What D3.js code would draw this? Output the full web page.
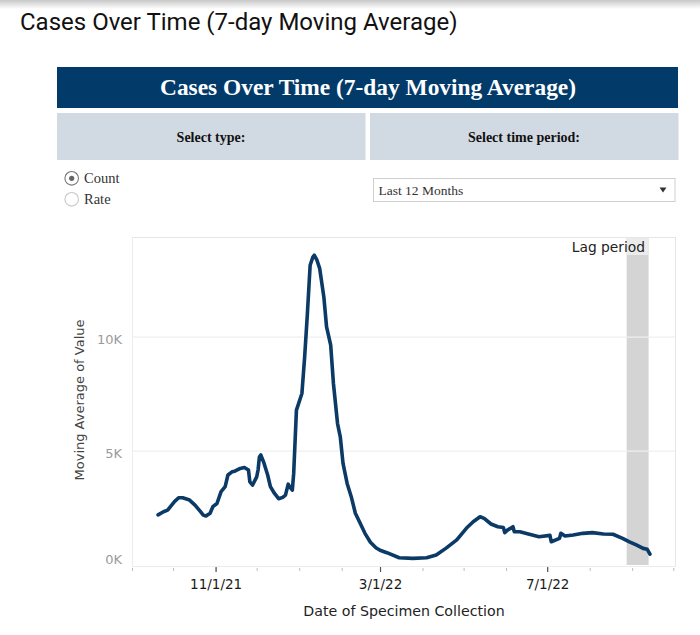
<!DOCTYPE html>
<html>
<head>
<meta charset="utf-8">
<script src="https://cdn.jsdelivr.net/npm/d3@7/dist/d3.min.js"></script>
<style>
  html, body { margin: 0; padding: 0; background: #fff; }
  svg { display: block; }
</style>
</head>
<body>
<svg id="chart" width="700" height="635"></svg>
<script>
// ---- Data ----
const dates = [
  "2021-09-20","2021-09-24","2021-09-27","2021-10-02","2021-10-05","2021-10-08","2021-10-13","2021-10-17",
  "2021-10-21","2021-10-23","2021-10-25","2021-10-28","2021-10-30","2021-11-02","2021-11-05","2021-11-08",
  "2021-11-10","2021-11-13","2021-11-15","2021-11-19","2021-11-22","2021-11-25","2021-11-26","2021-11-28",
  "2021-12-01","2021-12-02","2021-12-03","2021-12-04","2021-12-06","2021-12-09","2021-12-11","2021-12-14",
  "2021-12-17","2021-12-20","2021-12-22","2021-12-24","2021-12-25","2021-12-27","2021-12-28","2021-12-30",
  "2022-01-03","2022-01-05","2022-01-07","2022-01-09","2022-01-11","2022-01-12","2022-01-14","2022-01-16",
  "2022-01-19","2022-01-21","2022-01-24","2022-01-26","2022-01-29","2022-01-31","2022-02-02","2022-02-05",
  "2022-02-08","2022-02-11","2022-02-14","2022-02-18","2022-02-22","2022-02-26","2022-03-01","2022-03-06",
  "2022-03-15","2022-03-25","2022-04-04","2022-04-11","2022-04-18","2022-04-26","2022-05-03","2022-05-08",
  "2022-05-13","2022-05-16","2022-05-21","2022-05-26","2022-05-30","2022-05-31","2022-06-02","2022-06-06",
  "2022-06-07","2022-06-11","2022-06-18","2022-06-25","2022-07-03","2022-07-04","2022-07-10","2022-07-11",
  "2022-07-14","2022-07-20","2022-07-27","2022-08-03","2022-08-11","2022-08-18","2022-08-25","2022-08-30",
  "2022-09-04","2022-09-09","2022-09-12","2022-09-14"
];
const values = [
  2200,2340,2410,2780,2950,2950,2850,2630,
  2340,2190,2150,2270,2560,2700,3220,3440,
  3950,4090,4120,4240,4280,4170,3650,3510,
  3870,4170,4750,4830,4530,3950,3440,3140,
  2910,2970,3070,3550,3440,3290,4020,6800,
  7530,9140,11040,13160,13520,13600,13380,13010,
  11770,10450,9650,7970,6210,5630,4460,3580,
  3000,2270,1900,1390,1000,760,650,540,
  320,290,320,440,730,1100,1610,1900,
  2120,2050,1800,1680,1650,1420,1530,1680,
  1460,1460,1350,1240,1300,1020,1170,1390,
  1270,1320,1390,1420,1360,1350,1170,1020,
  880,730,690,480
];
const yTicks = [0, 5000, 10000];
const yTickLabels = ["0K", "5K", "10K"];
const xTickDates = ["2021-11-01", "2022-03-01", "2022-07-01"];
const xTickLabels = ["11/1/21", "3/1/22", "7/1/22"];
const lagPeriod = ["2022-08-28", "2022-09-13"];
const xDomain = ["2021-09-01", "2022-10-03"];
const yDomain = [0, 14400];

const pageTitle = "Cases Over Time (7-day Moving Average)";
const headerTitle = "Cases Over Time (7-day Moving Average)";
const typeLabel = "Select type:";
const periodLabel = "Select time period:";
const typeOptions = ["Count", "Rate"];
const periodValue = "Last 12 Months";
const yTitle = "Moving Average of Value";
const xTitle = "Date of Specimen Collection";
const lagLabel = "Lag period";

// ---- Drawing ----
const parse = d3.timeParse("%Y-%m-%d");
const data = dates.map((d, i) => ({ date: parse(d), value: values[i] }));
const svg = d3.select("#chart");

const NAVY = "#023a6a";
const BOX = "#d1d9e3";
const SERIF = "'Liberation Serif', 'Times New Roman', serif";
const SANS = "'DejaVu Sans', sans-serif";

// top shadow
const defs = svg.append("defs");
const grad = defs.append("linearGradient").attr("id", "shadow").attr("x1", 0).attr("y1", 0).attr("x2", 0).attr("y2", 1);
grad.append("stop").attr("offset", "0%").attr("stop-color", "#c8c8c8");
grad.append("stop").attr("offset", "100%").attr("stop-color", "#ffffff");
svg.append("rect").attr("x", 0).attr("y", 0).attr("width", 700).attr("height", 9).attr("fill", "url(#shadow)");

// page title
svg.append("text").attr("x", 20).attr("y", 30)
  .attr("font-family", "Roboto, sans-serif").attr("font-size", 24).attr("fill", "#111")
  .text(pageTitle);

// header bar
svg.append("rect").attr("x", 57).attr("y", 67).attr("width", 621).attr("height", 41).attr("fill", NAVY);
svg.append("text").attr("x", 368).attr("y", 95)
  .attr("text-anchor", "middle").attr("font-family", SERIF).attr("font-weight", "bold")
  .attr("font-size", 23.4).attr("fill", "#fff").text(headerTitle);

// selector boxes
svg.append("rect").attr("x", 57).attr("y", 113).attr("width", 308.5).attr("height", 47).attr("fill", BOX);
svg.append("rect").attr("x", 370).attr("y", 113).attr("width", 308.5).attr("height", 47).attr("fill", BOX);
svg.append("text").attr("x", 211).attr("y", 141.5).attr("text-anchor", "middle")
  .attr("font-family", SERIF).attr("font-weight", "bold").attr("font-size", 14).attr("fill", "#111").text(typeLabel);
svg.append("text").attr("x", 524).attr("y", 141.5).attr("text-anchor", "middle")
  .attr("font-family", SERIF).attr("font-weight", "bold").attr("font-size", 14).attr("fill", "#111").text(periodLabel);

// radio buttons
typeOptions.forEach((opt, i) => {
  const cy = 178.3 + i * 21;
  svg.append("circle").attr("cx", 71.7).attr("cy", cy).attr("r", 6.8)
    .attr("fill", "#fff").attr("stroke", i === 0 ? "#777" : "#c8c8c8").attr("stroke-width", 1.1);
  if (i === 0) svg.append("circle").attr("cx", 71.7).attr("cy", cy).attr("r", 2.6).attr("fill", "#666");
  svg.append("text").attr("x", 84).attr("y", cy + 4.8)
    .attr("font-family", SERIF).attr("font-size", 14.5).attr("fill", "#333").text(opt);
});

// dropdown
svg.append("rect").attr("x", 373.5).attr("y", 178.5).attr("width", 301.5).attr("height", 23)
  .attr("fill", "#fff").attr("stroke", "#cfcfcf").attr("stroke-width", 1);
svg.append("text").attr("x", 378.5).attr("y", 194.5)
  .attr("font-family", SERIF).attr("font-size", 13.5).attr("fill", "#333").text(periodValue);
svg.append("path").attr("d", "M659.5,187.5 L666.5,187.5 L663,192.5 Z").attr("fill", "#333");

// ---- Plot ----
const plot = { left: 132, right: 676, top: 237, bottom: 565 };
const x = d3.scaleTime().domain(xDomain.map(parse)).range([plot.left, plot.right]);
const y = d3.scaleLinear().domain(yDomain).range([plot.bottom, plot.top]);

// lag period
const lagX0 = x(parse(lagPeriod[0])), lagX1 = x(parse(lagPeriod[1]));
svg.append("rect").attr("x", lagX0).attr("y", plot.top).attr("width", lagX1 - lagX0)
  .attr("height", plot.bottom - plot.top).attr("fill", "#d4d4d4");
svg.append("rect").attr("x", lagX0).attr("y", plot.top + 1).attr("width", lagX1 - lagX0)
  .attr("height", 17).attr("fill", "#ebebeb");

// gridlines
svg.append("g").selectAll("line").data(yTicks.filter(d => d > 0)).join("line")
  .attr("x1", plot.left).attr("x2", plot.right).attr("y1", d => y(d)).attr("y2", d => y(d))
  .attr("stroke", "#efefef").attr("stroke-width", 1.2);

// frame
svg.append("line").attr("x1", plot.left).attr("x2", plot.right).attr("y1", plot.top + 0.5).attr("y2", plot.top + 0.5)
  .attr("stroke", "#e6e6e6");
svg.append("line").attr("x1", plot.right - 0.5).attr("x2", plot.right - 0.5).attr("y1", plot.top).attr("y2", plot.bottom + 2)
  .attr("stroke", "#e6e6e6");
svg.append("line").attr("x1", plot.left + 0.5).attr("x2", plot.left + 0.5).attr("y1", plot.top).attr("y2", plot.bottom + 2)
  .attr("stroke", "#ececec");
svg.append("line").attr("x1", plot.left).attr("x2", plot.right).attr("y1", plot.bottom + 1.5).attr("y2", plot.bottom + 1.5)
  .attr("stroke", "#ececec");

// lag label
svg.append("text").attr("x", 645).attr("y", 251.5).attr("text-anchor", "end")
  .attr("font-family", SANS).attr("font-size", 13.8).attr("fill", "#222").text(lagLabel);

// y axis labels
const yAxis = d3.axisLeft(y).tickValues(yTicks).tickSize(0).tickPadding(10)
  .tickFormat((d, i) => yTickLabels[i]);
const gy = svg.append("g").attr("transform", `translate(${plot.left},0)`).call(yAxis);
gy.select(".domain").remove();
gy.selectAll("text").attr("font-family", SANS).attr("font-size", 13).attr("fill", "#9a9a9a")
  .attr("dy", (d) => d === 0 ? "-0.15em" : "0.5em");

// x axis minor ticks
const gxMinor = svg.append("g").attr("transform", `translate(0,${plot.bottom + 3})`)
  .call(d3.axisBottom(x).ticks(d3.timeMonth.every(1)).tickSize(3).tickFormat(""));
gxMinor.select(".domain").remove();
gxMinor.selectAll("line").attr("stroke", "#bdbdbd");

// x axis major ticks + labels
const gx = svg.append("g").attr("transform", `translate(0,${plot.bottom + 2})`)
  .call(d3.axisBottom(x).tickValues(xTickDates.map(parse)).tickSize(5).tickPadding(7)
    .tickFormat((d, i) => xTickLabels[i]));
gx.select(".domain").remove();
gx.selectAll("line").attr("stroke", "#555").attr("stroke-width", 1.2);
gx.selectAll("text").attr("font-family", SANS).attr("font-size", 13.5).attr("fill", "#1a1a1a");

// axis titles
svg.append("text").attr("transform", "translate(84,400) rotate(-90)").attr("text-anchor", "middle")
  .attr("font-family", SANS).attr("font-size", 13).attr("fill", "#444").text(yTitle);
svg.append("text").attr("x", 404).attr("y", 616).attr("text-anchor", "middle")
  .attr("font-family", SANS).attr("font-size", 14.2).attr("fill", "#222").text(xTitle);

// line
const line = d3.line().x(d => x(d.date)).y(d => y(d.value)).curve(d3.curveLinear);
svg.append("path").datum(data).attr("d", line).attr("fill", "none")
  .attr("stroke", "#0b3a66").attr("stroke-width", 3.6).attr("stroke-linejoin", "round").attr("stroke-linecap", "round");
</script>
</body>
</html>
